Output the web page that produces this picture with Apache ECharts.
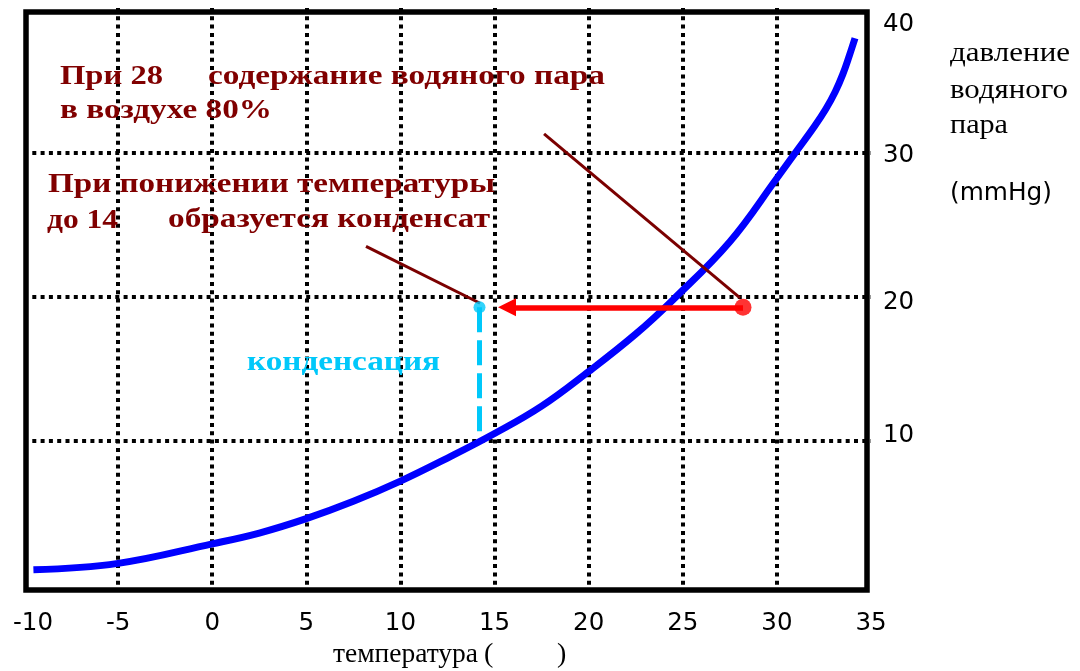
<!DOCTYPE html>
<html>
<head>
<meta charset="utf-8">
<script src="https://cdn.jsdelivr.net/npm/echarts@6/dist/echarts.min.js"></script>
<style>
html,body{margin:0;padding:0;background:#fff;}
#chart{width:1080px;height:671px;}
</style>
</head>
<body>
<div id="chart"></div>
<script>
// ---- data ----
const temperatures = [-9.5, -5, 0, 2.5, 5, 7.5, 10, 12.5, 15, 17.5, 20, 22.5, 24.5, 27.5, 30, 31, 32, 32.6, 33.1, 33.5, 33.85, 34.15];
const vaporPressure = [1.05, 1.5, 2.85, 3.6, 4.6, 5.8, 7.2, 8.8, 10.5, 12.4, 14.8, 17.4, 19.8, 23.8, 28.2, 30.0, 31.8, 33.0, 34.2, 35.4, 36.7, 37.9];
const xTicks = [-10, -5, 0, 5, 10, 15, 20, 25, 30, 35];
const yTicks = [10, 20, 30, 40];
const statePoint = [28.2, 19.25];      // red point
const dewPoint = [14.2, 19.25];        // cyan point
const arrowHeadT = 15.66;
const condensationBottom = 10.5;
const leader1 = [[17.63, 31.27], [28.04, 19.9]];
const leader2 = [[8.17, 23.48], [14.23, 19.53]];

const DARK_RED = '#800000';
const CYAN = '#00C8FA';

const cv = document.createElement('canvas').getContext('2d');
function measure(text, font){ cv.font = font; return cv.measureText(text).width; }
function txt(text, left, baseline, width, size, bold, family, color){
  const font = (bold ? 'bold ' : '') + size + 'px ' + family;
  return {
    type: 'text', x: left, y: baseline - 0.3 * size,
    scaleX: width ? width / measure(text, font) : 1,
    style: { text: text, font: font, fill: color, verticalAlign: 'middle', align: 'left' },
    z: 10
  };
}
const SERIF = '"Liberation Serif", "DejaVu Serif", serif';
const SANS = '"DejaVu Sans", sans-serif';
const GRID_LINE = { color: '#000', width: 4, type: [4, 4.3] };
const LBL = { fontSize: 24.5, fontFamily: SANS, color: '#000' };

const chart = echarts.init(document.getElementById('chart'), null, {renderer: 'canvas'});
const option = {
  animation: false,
  backgroundColor: '#fff',
  grid: [
    { left: 24, right: 209, top: 8, bottom: 86, show: false },
    { left: 26, right: 213, top: 12, bottom: 81, show: true, borderColor: '#000', borderWidth: 5.5, backgroundColor: 'transparent', z: 1 }
  ],
  xAxis: [
    {
      type: 'value', gridIndex: 0, min: -10, max: 35, interval: 5,
      axisLine: { show: false }, axisTick: { show: false },
      axisLabel: Object.assign({
        margin: 26,
        formatter: v => xTicks.indexOf(v) < 0 ? '' : (v === -10 ? '{a|' + v + '}' : String(v)),
        rich: { a: Object.assign({ padding: [0, 0, 0, 18] }, LBL) }
      }, LBL),
      splitLine: { show: true, showMinLine: false, showMaxLine: false, lineStyle: GRID_LINE }
    },
    { type: 'value', gridIndex: 1, min: 0, max: 1, show: false, splitLine: { show: false } }
  ],
  yAxis: [
    {
      type: 'value', gridIndex: 0, position: 'right', min: 0, max: 40, interval: 10,
      axisLine: { show: false }, axisTick: { show: false },
      axisLabel: Object.assign({
        margin: 12,
        formatter: v => {
          if (yTicks.indexOf(v) < 0) return '';
          if (v === 40) return '{a|40}';
          if (v === 30) return '{d|30}';
          if (v === 20) return '{b|20}';
          return '{c|10}';
        },
        rich: {
          a: Object.assign({ padding: [34, 0, 0, 0] }, LBL),
          d: Object.assign({ padding: [7, 0, 0, 0] }, LBL),
          b: Object.assign({ padding: [12, 0, 0, 0] }, LBL),
          c: Object.assign({ padding: [0, 0, 10, 0] }, LBL)
        }
      }, LBL),
      splitLine: { show: true, showMinLine: false, showMaxLine: false, lineStyle: GRID_LINE }
    },
    { type: 'value', gridIndex: 1, min: 0, max: 1, show: false, splitLine: { show: false } }
  ],
  series: [
    {
      type: 'line', xAxisIndex: 0, yAxisIndex: 0,
      data: temperatures.map((t, i) => [t, vaporPressure[i]]),
      showSymbol: false, smooth: 0.4,
      lineStyle: { color: '#0000FF', width: 7, cap: 'butt', join: 'round' }, z: 2
    },
    {
      type: 'line', xAxisIndex: 0, yAxisIndex: 0,
      data: [[dewPoint[0], dewPoint[1]], [dewPoint[0], condensationBottom]],
      showSymbol: false,
      lineStyle: { color: CYAN, width: 5, type: [25, 8], cap: 'butt' }, z: 3
    },
    {
      type: 'lines', coordinateSystem: 'cartesian2d', xAxisIndex: 0, yAxisIndex: 0,
      data: [{ coords: leader1 }, { coords: leader2 }],
      lineStyle: { color: '#7B0000', width: 3, opacity: 1 }, z: 4
    },
    {
      type: 'lines', coordinateSystem: 'cartesian2d', xAxisIndex: 0, yAxisIndex: 0,
      data: [{ coords: [[statePoint[0], statePoint[1]], [arrowHeadT, statePoint[1]]] }],
      symbol: ['none', 'triangle'], symbolSize: [1, 18],
      lineStyle: { color: '#FF0000', width: 5.5, opacity: 1 }, z: 5
    },
    {
      type: 'scatter', xAxisIndex: 0, yAxisIndex: 0,
      data: [
        { value: dewPoint, symbolSize: 12, itemStyle: { color: CYAN } },
        { value: statePoint, symbolSize: 17, itemStyle: { color: '#FF0000' } }
      ], z: 6
    }
  ],
  graphic: [
    txt('При 28', 60, 85, 103, 27, true, SERIF, DARK_RED),
    txt('содержание водяного пара', 208, 85, 397, 27, true, SERIF, DARK_RED),
    txt('в воздухе 80%', 60, 119.5, 212, 27, true, SERIF, DARK_RED),
    txt('При понижении температуры', 48, 193, 447, 27, true, SERIF, DARK_RED),
    txt('до 14', 47, 229, 71, 27, true, SERIF, DARK_RED),
    txt('образуется конденсат', 168, 228, 322, 27, true, SERIF, DARK_RED),
    txt('конденсация', 247, 371, 193, 27, true, SERIF, CYAN),
    txt('давление', 950, 62, 120, 27, false, SERIF, '#000'),
    txt('водяного', 950, 99, 118, 27, false, SERIF, '#000'),
    txt('пара', 950, 134, 58, 27, false, SERIF, '#000'),
    txt('(mmHg)', 950, 201, 102, 24.5, false, SANS, '#000'),
    txt('температура', 333, 663, 145, 28, false, SERIF, '#000'),
    txt('(', 484, 663, 0, 28, false, SERIF, '#000'),
    txt(')', 557, 663, 0, 28, false, SERIF, '#000')
  ]
};
chart.setOption(option);
</script>
</body>
</html>
